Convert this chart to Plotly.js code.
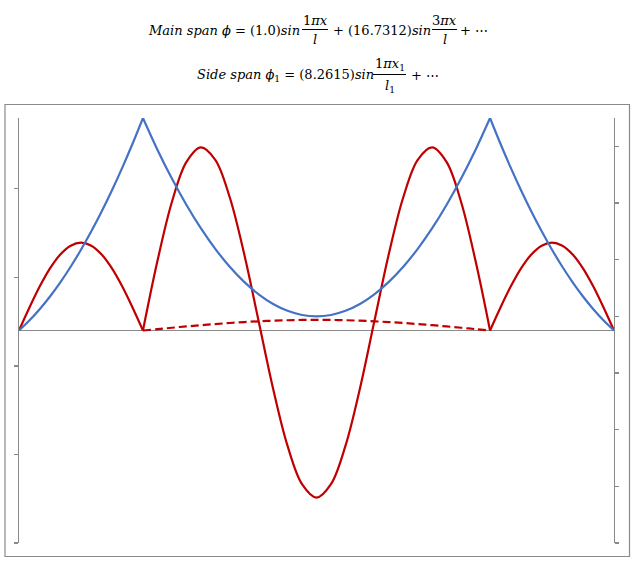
<!DOCTYPE html>
<html>
<head>
<meta charset="utf-8">
<script src="https://cdn.plot.ly/plotly-3.0.1.min.js"></script>
<style>html,body{margin:0;padding:0;background:#fff;}#chart{width:639px;height:569px;}</style>
</head>
<body>
<div id="chart"></div>
<script>
// ---- data ----
const xSideL = [0, 10.42, 20.83, 31.25, 41.67, 52.08, 62.5, 72.92, 83.33, 93.75, 104.17, 114.58, 125];
const xMain = [125, 139.58, 154.17, 168.75, 183.33, 197.92, 212.5, 227.08, 241.67, 256.25, 270.83, 285.42, 300, 314.58, 329.17, 343.75, 358.33, 372.92, 387.5, 402.08, 416.67, 431.25, 445.83, 460.42, 475];
const xSideR = [475, 485.42, 495.83, 506.25, 516.67, 527.08, 537.5, 547.92, 558.33, 568.75, 579.17, 589.58, 600];

const cableSideL = [0, 7, 15, 24, 34, 45, 57, 70, 84, 99, 115, 132, 150];
const cableMain = [150, 127.64, 107.22, 88.75, 72.22, 57.64, 45, 34.31, 25.56, 18.75, 13.89, 10.97, 10, 10.97, 13.89, 18.75, 25.56, 34.31, 45, 57.64, 72.22, 88.75, 107.22, 127.64, 150];
const cableSideR = [150, 132, 115, 99, 84, 70, 57, 45, 34, 24, 15, 7, 0];

const modeSideL = [0, 2.138, 4.131, 5.842, 7.155, 7.980, 8.262, 7.980, 7.155, 5.842, 4.131, 2.138, 0];
const modeMain = [0, 6.533, 12.090, 15.840, 17.231, 16.066, 12.538, 7.196, 0.866, -5.479, -10.865, -14.466, -15.731, -14.466, -10.865, -5.479, 0.866, 7.196, 12.538, 16.066, 17.231, 15.840, 12.090, 6.533, 0];
const modeSideR = [0, 2.138, 4.131, 5.842, 7.155, 7.980, 8.262, 7.980, 7.155, 5.842, 4.131, 2.138, 0];
const mode1Main = [0, 0.131, 0.259, 0.383, 0.5, 0.609, 0.707, 0.793, 0.866, 0.924, 0.966, 0.991, 1, 0.991, 0.966, 0.924, 0.866, 0.793, 0.707, 0.609, 0.5, 0.383, 0.259, 0.131, 0];

// ---- styles ----
const BLUE = '#4472C4', RED = '#C00000', GRAY = '#8a8a8a';
const M = {l: 19, r: 25, t: 118, b: 26};
const W = 639, H = 569;
const PW = W - M.l - M.r, PH = H - M.t - M.b;
const px = x => (x - M.l) / PW;
const py = y => (H - M.b - y) / PH;

function line(x, y, color, axis, dash) {
  return {x: x, y: y, type: 'scatter', mode: 'lines', yaxis: axis, hoverinfo: 'skip',
    line: {color: color, width: 2.2, shape: 'spline', dash: dash || 'solid'}, showlegend: false};
}

const traces = [
  line(xSideL, cableSideL, BLUE, 'y2'),
  line(xMain, cableMain, BLUE, 'y2'),
  line(xSideR, cableSideR, BLUE, 'y2'),
  line(xMain, mode1Main, RED, 'y', '8px,4px'),
  line(xSideL, modeSideL, RED, 'y'),
  line(xMain, modeMain, RED, 'y'),
  line(xSideR, modeSideR, RED, 'y')
];

const FONT = {family: 'DejaVu Serif, Liberation Serif, serif', size: 13, color: '#000'};
function txt(t, x, y, anchor) {
  return {text: t, x: px(x), y: py(y), xref: 'paper', yref: 'paper', xanchor: anchor || 'left', yanchor: 'middle',
    showarrow: false, font: FONT, borderpad: 0};
}
function bar(x0, x1, y) {
  return {type: 'line', xref: 'paper', yref: 'paper', x0: px(x0), x1: px(x1), y0: py(y), y1: py(y),
    line: {color: '#000', width: 1}};
}

const annotations = [
  txt('<i>Main span ϕ</i> = (1.0)<i>sin</i>', 147, 30),
  txt('1<i>πx</i>', 315, 20, 'center'),
  txt('<i>l</i>', 315, 40, 'center'),
  txt('+ (16.7312)<i>sin</i>', 332, 30),
  txt('3<i>πx</i>', 444.5, 20, 'center'),
  txt('<i>l</i>', 444.5, 40, 'center'),
  txt('+ ⋯', 459, 30),
  txt('<i>Side span ϕ</i><sub>1</sub> = (8.2615)<i>sin</i>', 196, 75),
  txt('1<i>πx</i><sub>1</sub>', 389.5, 65, 'center'),
  txt('<i>l</i><sub>1</sub>', 389.5, 86, 'center'),
  txt('+ ⋯', 410, 75)
];

const shapes = [
  {type: 'rect', xref: 'paper', yref: 'paper', x0: px(5), x1: px(629.5), y0: py(556.5), y1: py(104.5),
    line: {color: GRAY, width: 1.2}, fillcolor: 'rgba(0,0,0,0)'},
  bar(302, 328, 29.5),
  bar(432, 457, 29.5),
  bar(373, 406, 74.5)
];

const layout = {
  width: W, height: H, margin: M,
  paper_bgcolor: '#fff', plot_bgcolor: '#fff',
  showlegend: false,
  xaxis: {range: [0, 600], showline: false, showgrid: false, zeroline: false, showticklabels: false, ticks: '', fixedrange: true},
  yaxis: {range: [-20, 20], showline: true, linecolor: GRAY, linewidth: 1.2, showgrid: false,
    zeroline: true, zerolinecolor: GRAY, zerolinewidth: 1.2,
    tickmode: 'linear', tick0: -20, dtick: 25/3, ticks: 'outside', ticklen: 4, tickcolor: GRAY, tickwidth: 1.2,
    showticklabels: false, fixedrange: true},
  yaxis2: {range: [-150, 150], overlaying: 'y', side: 'right', showline: true, linecolor: GRAY, linewidth: 1.2,
    showgrid: false, zeroline: false, tickmode: 'linear', tick0: -150, dtick: 40, ticks: 'outside', ticklen: 4,
    tickcolor: GRAY, tickwidth: 1.2, showticklabels: false, fixedrange: true},
  annotations: annotations,
  shapes: shapes
};

Plotly.newPlot('chart', traces, layout, {displayModeBar: false, staticPlot: true});
</script>
</body>
</html>
